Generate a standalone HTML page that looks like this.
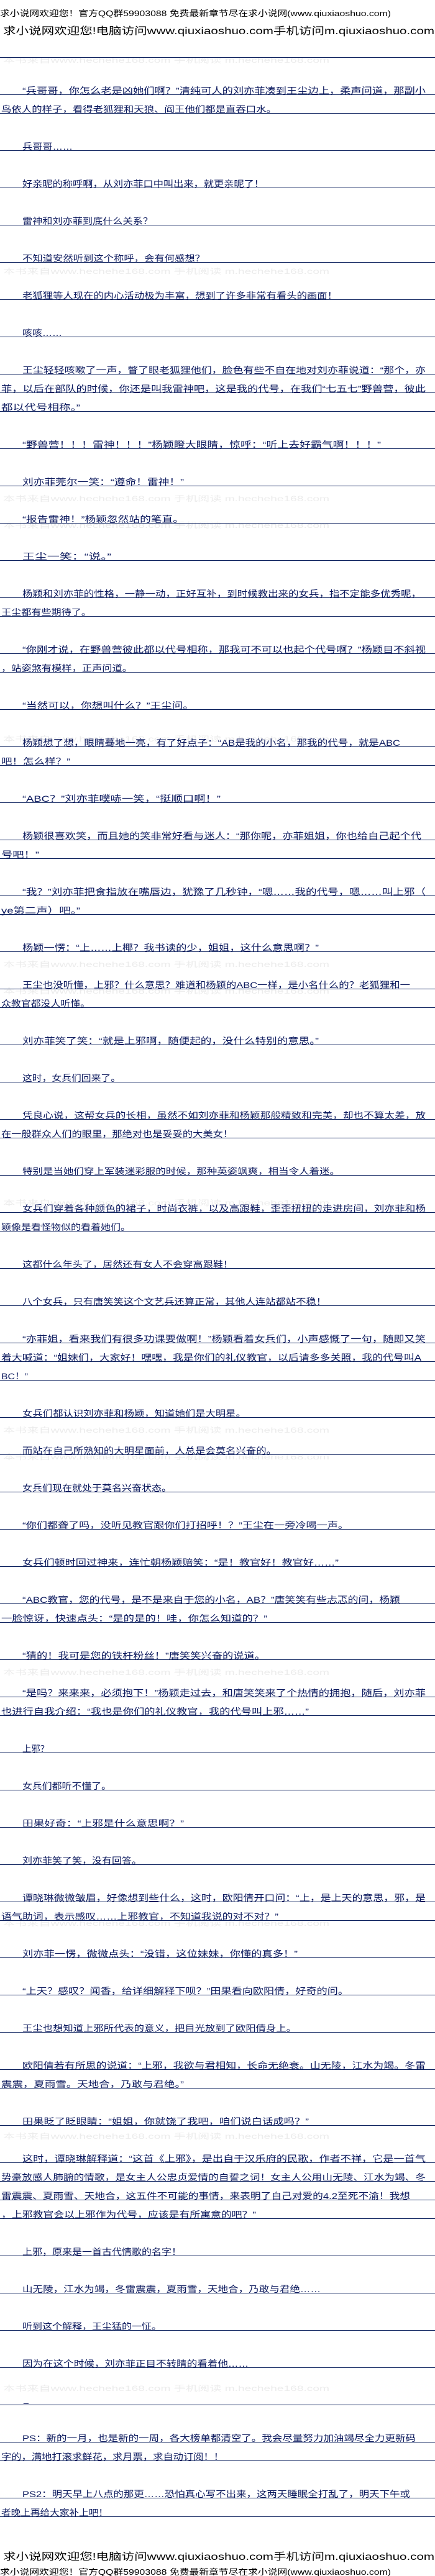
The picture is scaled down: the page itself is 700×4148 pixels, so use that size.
<!DOCTYPE html>
<html><head><meta charset="utf-8"><style>
html,body{margin:0;padding:0;background:#fff;}
svg{display:block;}
.t{font-family:"Liberation Sans","Noto Sans CJK SC",sans-serif;font-size:14px;fill:#0c1a5e;}
.h{font-family:"Liberation Sans","Noto Sans CJK SC",sans-serif;fill:#000;}
.w{font-family:"Liberation Sans","Noto Sans CJK SC",sans-serif;font-size:12px;fill:#ececec;}
line{stroke:#0a1f5c;stroke-width:1;}
</style></head><body>
<svg width="700" height="4148" xmlns="http://www.w3.org/2000/svg">
<text class="h" x="0" y="26" font-size="13" textLength="629" lengthAdjust="spacingAndGlyphs">求小说网欢迎您！官方QQ群59903088 免费最新章节尽在求小说网(www.qiuxiaoshuo.com)</text>
<text class="h" x="5" y="55" font-size="16" textLength="694" lengthAdjust="spacingAndGlyphs">求小说网欢迎您!电脑访问www.qiuxiaoshuo.com手机访问m.qiuxiaoshuo.com</text>

<g class="w">
<text class="w" x="5" y="101" textLength="525" lengthAdjust="spacingAndGlyphs">本书来自www.hechehe168.com 手机阅读 m.hechehe168.com</text>
<text class="w" x="5" y="441" textLength="525" lengthAdjust="spacingAndGlyphs">本书来自www.hechehe168.com 手机阅读 m.hechehe168.com</text>
<text class="w" x="5" y="807" textLength="525" lengthAdjust="spacingAndGlyphs">本书来自www.hechehe168.com 手机阅读 m.hechehe168.com</text>
<text class="w" x="5" y="850" textLength="525" lengthAdjust="spacingAndGlyphs">本书来自www.hechehe168.com 手机阅读 m.hechehe168.com</text>
<text class="w" x="5" y="1194" textLength="525" lengthAdjust="spacingAndGlyphs">本书来自www.hechehe168.com 手机阅读 m.hechehe168.com</text>
<text class="w" x="5" y="1557" textLength="525" lengthAdjust="spacingAndGlyphs">本书来自www.hechehe168.com 手机阅读 m.hechehe168.com</text>
<text class="w" x="5" y="1600" textLength="525" lengthAdjust="spacingAndGlyphs">本书来自www.hechehe168.com 手机阅读 m.hechehe168.com</text>
<text class="w" x="5" y="1941" textLength="525" lengthAdjust="spacingAndGlyphs">本书来自www.hechehe168.com 手机阅读 m.hechehe168.com</text>
<text class="w" x="5" y="2307" textLength="525" lengthAdjust="spacingAndGlyphs">本书来自www.hechehe168.com 手机阅读 m.hechehe168.com</text>
<text class="w" x="5" y="2350" textLength="525" lengthAdjust="spacingAndGlyphs">本书来自www.hechehe168.com 手机阅读 m.hechehe168.com</text>
<text class="w" x="5" y="2697" textLength="525" lengthAdjust="spacingAndGlyphs">本书来自www.hechehe168.com 手机阅读 m.hechehe168.com</text>
<text class="w" x="5" y="3101" textLength="525" lengthAdjust="spacingAndGlyphs">本书来自www.hechehe168.com 手机阅读 m.hechehe168.com</text>
<text class="w" x="5" y="3444" textLength="525" lengthAdjust="spacingAndGlyphs">本书来自www.hechehe168.com 手机阅读 m.hechehe168.com</text>
<text class="w" x="5" y="3850" textLength="525" lengthAdjust="spacingAndGlyphs">本书来自www.hechehe168.com 手机阅读 m.hechehe168.com</text>
</g>

<g>
<line x1="0" x2="700" y1="92.5" y2="92.5"/>
<line x1="0" x2="700" y1="152.5" y2="152.5"/><line x1="0" x2="700" y1="182.5" y2="182.5"/>
<line x1="0" x2="700" y1="242.5" y2="242.5"/><line x1="0" x2="700" y1="302.5" y2="302.5"/>
<line x1="0" x2="700" y1="362.5" y2="362.5"/><line x1="0" x2="700" y1="422.5" y2="422.5"/>
<line x1="0" x2="700" y1="482.5" y2="482.5"/><line x1="0" x2="700" y1="542.5" y2="542.5"/>
<line x1="0" x2="700" y1="602.5" y2="602.5"/><line x1="0" x2="700" y1="632.5" y2="632.5"/><line x1="0" x2="700" y1="662.5" y2="662.5"/>
<line x1="0" x2="700" y1="722.5" y2="722.5"/><line x1="0" x2="700" y1="782.5" y2="782.5"/>
<line x1="0" x2="700" y1="842.5" y2="842.5"/><line x1="0" x2="700" y1="902.5" y2="902.5"/>
<line x1="0" x2="700" y1="962.5" y2="962.5"/><line x1="0" x2="700" y1="992.5" y2="992.5"/>
<line x1="0" x2="700" y1="1052.5" y2="1052.5"/><line x1="0" x2="700" y1="1082.5" y2="1082.5"/>
<line x1="0" x2="700" y1="1142.5" y2="1142.5"/><line x1="0" x2="700" y1="1202.5" y2="1202.5"/><line x1="0" x2="700" y1="1232.5" y2="1232.5"/>
<line x1="0" x2="700" y1="1292.5" y2="1292.5"/><line x1="0" x2="700" y1="1352.5" y2="1352.5"/><line x1="0" x2="700" y1="1382.5" y2="1382.5"/>
<line x1="0" x2="700" y1="1442.5" y2="1442.5"/><line x1="0" x2="700" y1="1472.5" y2="1472.5"/>
<line x1="0" x2="700" y1="1532.5" y2="1532.5"/><line x1="0" x2="700" y1="1592.5" y2="1592.5"/><line x1="0" x2="700" y1="1622.5" y2="1622.5"/>
<line x1="0" x2="700" y1="1682.5" y2="1682.5"/><line x1="0" x2="700" y1="1742.5" y2="1742.5"/>
<line x1="0" x2="700" y1="1802.5" y2="1802.5"/><line x1="0" x2="700" y1="1832.5" y2="1832.5"/>
<line x1="0" x2="700" y1="1892.5" y2="1892.5"/><line x1="0" x2="700" y1="1952.5" y2="1952.5"/><line x1="0" x2="700" y1="1982.5" y2="1982.5"/>
<line x1="0" x2="700" y1="2042.5" y2="2042.5"/><line x1="0" x2="700" y1="2102.5" y2="2102.5"/>
<line x1="0" x2="700" y1="2162.5" y2="2162.5"/><line x1="0" x2="700" y1="2192.5" y2="2192.5"/><line x1="0" x2="700" y1="2222.5" y2="2222.5"/>
<line x1="0" x2="700" y1="2282.5" y2="2282.5"/><line x1="0" x2="700" y1="2342.5" y2="2342.5"/><line x1="0" x2="700" y1="2402.5" y2="2402.5"/>
<line x1="0" x2="700" y1="2462.5" y2="2462.5"/><line x1="0" x2="700" y1="2522.5" y2="2522.5"/>
<line x1="0" x2="700" y1="2582.5" y2="2582.5"/><line x1="0" x2="700" y1="2612.5" y2="2612.5"/>
<line x1="0" x2="700" y1="2672.5" y2="2672.5"/><line x1="0" x2="700" y1="2732.5" y2="2732.5"/><line x1="0" x2="700" y1="2762.5" y2="2762.5"/>
<line x1="0" x2="700" y1="2822.5" y2="2822.5"/><line x1="0" x2="700" y1="2882.5" y2="2882.5"/>
<line x1="0" x2="700" y1="2942.5" y2="2942.5"/><line x1="0" x2="700" y1="3002.5" y2="3002.5"/>
<line x1="0" x2="700" y1="3062.5" y2="3062.5"/><line x1="0" x2="700" y1="3092.5" y2="3092.5"/>
<line x1="0" x2="700" y1="3152.5" y2="3152.5"/><line x1="0" x2="700" y1="3212.5" y2="3212.5"/>
<line x1="0" x2="700" y1="3272.5" y2="3272.5"/><line x1="0" x2="700" y1="3332.5" y2="3332.5"/><line x1="0" x2="700" y1="3362.5" y2="3362.5"/>
<line x1="0" x2="700" y1="3422.5" y2="3422.5"/><line x1="0" x2="700" y1="3482.5" y2="3482.5"/>
<line x1="0" x2="700" y1="3512.5" y2="3512.5"/><line x1="0" x2="700" y1="3542.5" y2="3542.5"/><line x1="0" x2="700" y1="3572.5" y2="3572.5"/>
<line x1="0" x2="700" y1="3632.5" y2="3632.5"/><line x1="0" x2="700" y1="3692.5" y2="3692.5"/>
<line x1="0" x2="700" y1="3752.5" y2="3752.5"/><line x1="0" x2="700" y1="3812.5" y2="3812.5"/>
<line x1="0" x2="700" y1="3872.5" y2="3872.5"/><line x1="0" x2="700" y1="3932.5" y2="3932.5"/><line x1="0" x2="700" y1="3962.5" y2="3962.5"/>
<line x1="0" x2="700" y1="4022.5" y2="4022.5"/><line x1="0" x2="700" y1="4052.5" y2="4052.5"/>
</g>

<g class="t">
<text class="t" x="36" y="151" textLength="649" lengthAdjust="spacingAndGlyphs">“兵哥哥，你怎么老是凶她们啊？”清纯可人的刘亦菲凑到王尘边上，柔声问道，那副小</text>
<text class="t" x="2" y="181" textLength="443" lengthAdjust="spacingAndGlyphs">鸟依人的样子，看得老狐狸和天狼、阎王他们都是直吞口水。</text>
<text class="t" x="36" y="241" textLength="81" lengthAdjust="spacingAndGlyphs">兵哥哥……</text>
<text class="t" x="36" y="301" textLength="389" lengthAdjust="spacingAndGlyphs">好亲昵的称呼啊，从刘亦菲口中叫出来，就更亲昵了！</text>
<text class="t" x="36" y="361" textLength="210" lengthAdjust="spacingAndGlyphs">雷神和刘亦菲到底什么关系？</text>
<text class="t" x="36" y="421" textLength="294" lengthAdjust="spacingAndGlyphs">不知道安然听到这个称呼，会有何感想？</text>
<text class="t" x="36" y="481" textLength="507" lengthAdjust="spacingAndGlyphs">老狐狸等人现在的内心活动极为丰富，想到了许多非常有看头的画面！</text>
<text class="t" x="36" y="541" textLength="64" lengthAdjust="spacingAndGlyphs">咳咳……</text>
<text class="t" x="36" y="601" textLength="649" lengthAdjust="spacingAndGlyphs">王尘轻轻咳嗽了一声，瞥了眼老狐狸他们，脸色有些不自在地对刘亦菲说道：“那个，亦</text>
<text class="t" x="2" y="631" textLength="683" lengthAdjust="spacingAndGlyphs">菲，以后在部队的时候，你还是叫我雷神吧，这是我的代号，在我们“七五七”野兽营，彼此</text>
<text class="t" x="2" y="661" textLength="127" lengthAdjust="spacingAndGlyphs">都以代号相称。”</text>
<text class="t" x="36" y="721" textLength="577" lengthAdjust="spacingAndGlyphs">“野兽营！！！雷神！！！”杨颖瞪大眼睛，惊呼：“听上去好霸气啊！！！”</text>
<text class="t" x="36" y="781" textLength="260" lengthAdjust="spacingAndGlyphs">刘亦菲莞尔一笑：“遵命！雷神！”</text>
<text class="t" x="36" y="841" textLength="260" lengthAdjust="spacingAndGlyphs">“报告雷神！”杨颖忽然站的笔直。</text>
<text class="t" x="36" y="901" textLength="143" lengthAdjust="spacingAndGlyphs">王尘一笑：“说。”</text>
<text class="t" x="36" y="961" textLength="642" lengthAdjust="spacingAndGlyphs">杨颖和刘亦菲的性格，一静一动，正好互补，到时候教出来的女兵，指不定能多优秀呢，</text>
<text class="t" x="2" y="991" textLength="145" lengthAdjust="spacingAndGlyphs">王尘都有些期待了。</text>
<text class="t" x="36" y="1051" textLength="649" lengthAdjust="spacingAndGlyphs">“你刚才说，在野兽营彼此都以代号相称，那我可不可以也起个代号啊？”杨颖目不斜视</text>
<text class="t" x="2" y="1081" textLength="211" lengthAdjust="spacingAndGlyphs">，站姿煞有模样，正声问道。</text>
<text class="t" x="36" y="1141" textLength="276" lengthAdjust="spacingAndGlyphs">“当然可以，你想叫什么？”王尘问。</text>
<text class="t" x="36" y="1201" textLength="608" lengthAdjust="spacingAndGlyphs">杨颖想了想，眼睛蓦地一亮，有了好点子：“AB是我的小名，那我的代号，就是ABC</text>
<text class="t" x="2" y="1231" textLength="111" lengthAdjust="spacingAndGlyphs">吧！怎么样？”</text>
<text class="t" x="36" y="1291" textLength="319" lengthAdjust="spacingAndGlyphs">“ABC？”刘亦菲噗哧一笑，“挺顺口啊！”</text>
<text class="t" x="36" y="1351" textLength="642" lengthAdjust="spacingAndGlyphs">杨颖很喜欢笑，而且她的笑非常好看与迷人：“那你呢，亦菲姐姐，你也给自己起个代</text>
<text class="t" x="2" y="1381" textLength="61" lengthAdjust="spacingAndGlyphs">号吧！”</text>
<text class="t" x="36" y="1441" textLength="649" lengthAdjust="spacingAndGlyphs">“我？”刘亦菲把食指放在嘴唇边，犹豫了几秒钟，“嗯……我的代号，嗯……叫上邪（</text>
<text class="t" x="2" y="1471" textLength="127" lengthAdjust="spacingAndGlyphs">ye第二声）吧。”</text>
<text class="t" x="36" y="1531" textLength="477" lengthAdjust="spacingAndGlyphs">杨颖一愣：“上……上椰？我书读的少，姐姐，这什么意思啊？”</text>
<text class="t" x="36" y="1591" textLength="624" lengthAdjust="spacingAndGlyphs">王尘也没听懂，上邪？什么意思？难道和杨颖的ABC一样，是小名什么的？老狐狸和一</text>
<text class="t" x="2" y="1621" textLength="143" lengthAdjust="spacingAndGlyphs">众教官都没人听懂。</text>
<text class="t" x="36" y="1681" textLength="477" lengthAdjust="spacingAndGlyphs">刘亦菲笑了笑：“就是上邪啊，随便起的，没什么特别的意思。”</text>
<text class="t" x="36" y="1741" textLength="158" lengthAdjust="spacingAndGlyphs">这时，女兵们回来了。</text>
<text class="t" x="36" y="1801" textLength="649" lengthAdjust="spacingAndGlyphs">凭良心说，这帮女兵的长相，虽然不如刘亦菲和杨颖那般精致和完美，却也不算太差，放</text>
<text class="t" x="2" y="1831" textLength="373" lengthAdjust="spacingAndGlyphs">在一般群众人们的眼里，那绝对也是妥妥的大美女！</text>
<text class="t" x="36" y="1891" textLength="511" lengthAdjust="spacingAndGlyphs">特别是当她们穿上军装迷彩服的时候，那种英姿飒爽，相当令人着迷。</text>
<text class="t" x="36" y="1951" textLength="649" lengthAdjust="spacingAndGlyphs">女兵们穿着各种颜色的裙子，时尚衣裤，以及高跟鞋，歪歪扭扭的走进房间，刘亦菲和杨</text>
<text class="t" x="2" y="1981" textLength="208" lengthAdjust="spacingAndGlyphs">颖像是看怪物似的看着她们。</text>
<text class="t" x="36" y="2041" textLength="339" lengthAdjust="spacingAndGlyphs">这都什么年头了，居然还有女人不会穿高跟鞋！</text>
<text class="t" x="36" y="2101" textLength="489" lengthAdjust="spacingAndGlyphs">八个女兵，只有唐笑笑这个文艺兵还算正常，其他人连站都站不稳！</text>
<text class="t" x="36" y="2161" textLength="649" lengthAdjust="spacingAndGlyphs">“亦菲姐，看来我们有很多功课要做啊！”杨颖看着女兵们，小声感慨了一句，随即又笑</text>
<text class="t" x="2" y="2191" textLength="676" lengthAdjust="spacingAndGlyphs">着大喊道：“姐妹们，大家好！嘿嘿，我是你们的礼仪教官，以后请多多关照，我的代号叫A</text>
<text class="t" x="2" y="2221" textLength="43" lengthAdjust="spacingAndGlyphs">BC！”</text>
<text class="t" x="36" y="2281" textLength="360" lengthAdjust="spacingAndGlyphs">女兵们都认识刘亦菲和杨颖，知道她们是大明星。</text>
<text class="t" x="36" y="2341" textLength="409" lengthAdjust="spacingAndGlyphs">而站在自己所熟知的大明星面前，人总是会莫名兴奋的。</text>
<text class="t" x="36" y="2401" textLength="240" lengthAdjust="spacingAndGlyphs">女兵们现在就处于莫名兴奋状态。</text>
<text class="t" x="36" y="2461" textLength="525" lengthAdjust="spacingAndGlyphs">“你们都聋了吗，没听见教官跟你们打招呼！？”王尘在一旁冷喝一声。</text>
<text class="t" x="36" y="2521" textLength="509" lengthAdjust="spacingAndGlyphs">女兵们顿时回过神来，连忙朝杨颖赔笑：“是！教官好！教官好……”</text>
<text class="t" x="36" y="2581" textLength="608" lengthAdjust="spacingAndGlyphs">“ABC教官，您的代号，是不是来自于您的小名，AB？”唐笑笑有些忐忑的问，杨颖</text>
<text class="t" x="2" y="2611" textLength="428" lengthAdjust="spacingAndGlyphs">一脸惊讶，快速点头：“是的是的！哇，你怎么知道的？”</text>
<text class="t" x="36" y="2671" textLength="391" lengthAdjust="spacingAndGlyphs">“猜的！我可是您的铁杆粉丝！”唐笑笑兴奋的说道。</text>
<text class="t" x="36" y="2731" textLength="649" lengthAdjust="spacingAndGlyphs">“是吗？来来来，必须抱下！”杨颖走过去，和唐笑笑来了个热情的拥抱，随后，刘亦菲</text>
<text class="t" x="2" y="2761" textLength="495" lengthAdjust="spacingAndGlyphs">也进行自我介绍：“我也是你们的礼仪教官，我的代号叫上邪……”</text>
<text class="t" x="36" y="2821" textLength="43" lengthAdjust="spacingAndGlyphs">上邪？</text>
<text class="t" x="36" y="2881" textLength="143" lengthAdjust="spacingAndGlyphs">女兵们都听不懂了。</text>
<text class="t" x="36" y="2941" textLength="260" lengthAdjust="spacingAndGlyphs">田果好奇：“上邪是什么意思啊？”</text>
<text class="t" x="36" y="3001" textLength="192" lengthAdjust="spacingAndGlyphs">刘亦菲笑了笑，没有回答。</text>
<text class="t" x="36" y="3061" textLength="649" lengthAdjust="spacingAndGlyphs">谭晓琳微微皱眉，好像想到些什么，这时，欧阳倩开口问：“上，是上天的意思，邪，是</text>
<text class="t" x="2" y="3091" textLength="446" lengthAdjust="spacingAndGlyphs">语气助词，表示感叹……上邪教官，不知道我说的对不对？”</text>
<text class="t" x="36" y="3151" textLength="443" lengthAdjust="spacingAndGlyphs">刘亦菲一愣，微微点头：“没错，这位妹妹，你懂的真多！”</text>
<text class="t" x="36" y="3211" textLength="525" lengthAdjust="spacingAndGlyphs">“上天？感叹？闻香，给详细解释下呗？”田果看向欧阳倩，好奇的问。</text>
<text class="t" x="36" y="3271" textLength="441" lengthAdjust="spacingAndGlyphs">王尘也想知道上邪所代表的意义，把目光放到了欧阳倩身上。</text>
<text class="t" x="36" y="3331" textLength="649" lengthAdjust="spacingAndGlyphs">欧阳倩若有所思的说道：“上邪，我欲与君相知，长命无绝衰。山无陵，江水为竭。冬雷</text>
<text class="t" x="2" y="3361" textLength="294" lengthAdjust="spacingAndGlyphs">震震，夏雨雪。天地合，乃敢与君绝。”</text>
<text class="t" x="36" y="3421" textLength="461" lengthAdjust="spacingAndGlyphs">田果眨了眨眼睛：“姐姐，你就饶了我吧，咱们说白话成吗？”</text>
<text class="t" x="36" y="3481" textLength="649" lengthAdjust="spacingAndGlyphs">这时，谭晓琳解释道：“这首《上邪》，是出自于汉乐府的民歌，作者不祥，它是一首气</text>
<text class="t" x="2" y="3511" textLength="683" lengthAdjust="spacingAndGlyphs">势豪放感人肺腑的情歌，是女主人公忠贞爱情的自誓之词！女主人公用山无陵、江水为竭、冬</text>
<text class="t" x="2" y="3541" textLength="658" lengthAdjust="spacingAndGlyphs">雷震震、夏雨雪、天地合，这五件不可能的事情，来表明了自己对爱的4.2至死不渝！我想</text>
<text class="t" x="2" y="3571" textLength="410" lengthAdjust="spacingAndGlyphs">，上邪教官会以上邪作为代号，应该是有所寓意的吧？”</text>
<text class="t" x="36" y="3631" textLength="256" lengthAdjust="spacingAndGlyphs">上邪，原来是一首古代情歌的名字！</text>
<text class="t" x="36" y="3691" textLength="480" lengthAdjust="spacingAndGlyphs">山无陵，江水为竭，冬雷震震，夏雨雪，天地合，乃敢与君绝……</text>
<text class="t" x="36" y="3751" textLength="224" lengthAdjust="spacingAndGlyphs">听到这个解释，王尘猛的一怔。</text>
<text class="t" x="36" y="3811" textLength="364" lengthAdjust="spacingAndGlyphs">因为在这个时候，刘亦菲正目不转睛的看着他……</text>
<text class="t" x="38" y="3868" font-size="10">_</text>
<text class="t" x="36" y="3931" textLength="633" lengthAdjust="spacingAndGlyphs">PS：新的一月，也是新的一周，各大榜单都清空了。我会尽量努力加油竭尽全力更新码</text>
<text class="t" x="2" y="3961" textLength="358" lengthAdjust="spacingAndGlyphs">字的，满地打滚求鲜花，求月票，求自动订阅！！</text>
<text class="t" x="36" y="4021" textLength="624" lengthAdjust="spacingAndGlyphs">PS2：明天早上八点的那更……恐怕真心写不出来，这两天睡眠全打乱了，明天下午或</text>
<text class="t" x="2" y="4051" textLength="172" lengthAdjust="spacingAndGlyphs">者晚上再给大家补上吧！</text>
</g>

<text class="h" x="5" y="4122" font-size="16" textLength="694" lengthAdjust="spacingAndGlyphs">求小说网欢迎您!电脑访问www.qiuxiaoshuo.com手机访问m.qiuxiaoshuo.com</text>
<text class="h" x="0" y="4146" font-size="13" textLength="629" lengthAdjust="spacingAndGlyphs">求小说网欢迎您！官方QQ群59903088 免费最新章节尽在求小说网(www.qiuxiaoshuo.com)</text>
</svg>
</body></html>
